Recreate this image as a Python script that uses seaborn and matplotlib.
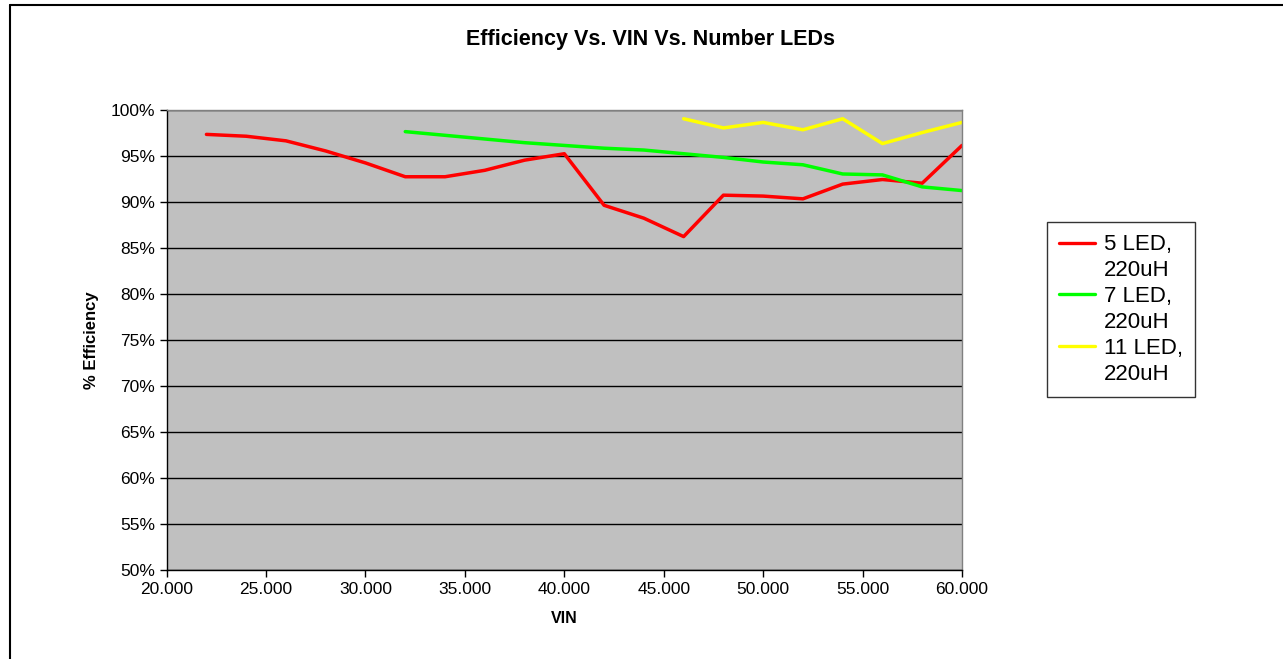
import pandas as pd
import matplotlib.pyplot as plt
import matplotlib.ticker as mticker
from matplotlib.lines import Line2D
import seaborn as sns

# Data
vin_5 = [22, 24, 26, 28, 30, 32, 34, 36, 38, 40, 42, 44, 46, 48, 50, 52, 54, 56, 58, 60]
eff_5 = [97.3, 97.1, 96.6, 95.5, 94.2, 92.7, 92.7, 93.4, 94.5, 95.2,
         89.6, 88.2, 86.2, 90.7, 90.6, 90.3, 91.9, 92.4, 92.0, 96.1]

vin_7 = [32, 34, 36, 38, 40, 42, 44, 46, 48, 50, 52, 54, 56, 58, 60]
eff_7 = [97.6, 97.2, 96.8, 96.4, 96.1, 95.8, 95.6, 95.2, 94.8, 94.3,
         94.0, 93.0, 92.9, 91.6, 91.2]

vin_11 = [46, 48, 50, 52, 54, 56, 58, 60]
eff_11 = [99.0, 98.0, 98.6, 97.8, 99.0, 96.3, 97.5, 98.6]

series = ['5 LED,', '7 LED,', '11 LED,']
sub_label = '220uH'
colors = ['#FF0000', '#00FF00', '#FFFF00']

df = pd.concat([
    pd.DataFrame({'VIN': vin_5, 'eff': eff_5, 'series': series[0]}),
    pd.DataFrame({'VIN': vin_7, 'eff': eff_7, 'series': series[1]}),
    pd.DataFrame({'VIN': vin_11, 'eff': eff_11, 'series': series[2]}),
])

sns.set_style('white')
plt.rcParams['font.family'] = ['Liberation Sans', 'DejaVu Sans']
plt.rcParams['text.color'] = 'black'
plt.rcParams['axes.labelcolor'] = 'black'
plt.rcParams['xtick.color'] = 'black'
plt.rcParams['ytick.color'] = 'black'

fig = plt.figure(figsize=(12.83, 6.59), dpi=100)
ax = fig.add_axes([0.1299, 0.1351, 0.6199, 0.6987])
ax.set_facecolor('#C0C0C0')

sns.lineplot(data=df, x='VIN', y='eff', hue='series', hue_order=series,
             palette=colors, linewidth=2.5, ax=ax, sort=False, legend=False)

ax.set_xlim(20, 60)
ax.set_ylim(50, 100)
ax.set_xticks(range(20, 61, 5))
ax.set_yticks(range(50, 101, 5))
ax.xaxis.set_major_formatter(mticker.FuncFormatter(lambda v, p: f'{v:.3f}'))
ax.yaxis.set_major_formatter(mticker.FuncFormatter(lambda v, p: f'{v:.0f}%'))
ax.yaxis.grid(True, color='black', linewidth=1)
ax.set_axisbelow(True)
ax.tick_params(axis='both', direction='out', length=5, width=1, color='black',
               labelsize=12.5, left=True, bottom=True)

for side in ['left', 'bottom']:
    ax.spines[side].set_color('black')
    ax.spines[side].set_linewidth(1)
for side in ['top', 'right']:
    ax.spines[side].set_color('#808080')
    ax.spines[side].set_linewidth(1)

ax.set_xlabel('VIN', fontsize=11.5, fontweight='bold', labelpad=10)
ax.set_ylabel('% Efficiency', fontsize=12, fontweight='bold', labelpad=8)
fig.suptitle('Efficiency Vs. VIN Vs. Number LEDs', x=0.507, y=0.956,
             fontsize=15.5, fontweight='bold')

# legend: coloured line on first line of each label, "220uH" below it
handles, texts = [], []
for name, c in zip(series, colors):
    handles.append(Line2D([], [], color=c, linewidth=2.4))
    texts.append(name)
    handles.append(Line2D([], [], color='none'))
    texts.append(sub_label)
leg = ax.legend(handles, texts, loc='upper left', bbox_to_anchor=(0.816, 0.663),
                bbox_transform=fig.transFigure, fontsize=16, frameon=True,
                fancybox=False, edgecolor='black', handlelength=1.6,
                handletextpad=0.4, borderpad=0.55, labelspacing=0.22,
                borderaxespad=0)
leg.get_frame().set_linewidth(1)

# outer chart border (top and left edges visible)
fig.add_artist(Line2D([10 / 1283, 1], [1 - 5 / 659, 1 - 5 / 659],
                      transform=fig.transFigure, color='black', linewidth=1.5))
fig.add_artist(Line2D([10 / 1283, 10 / 1283], [0, 1 - 5 / 659],
                      transform=fig.transFigure, color='black', linewidth=1.5))

fig.savefig('out.png', dpi=100)
